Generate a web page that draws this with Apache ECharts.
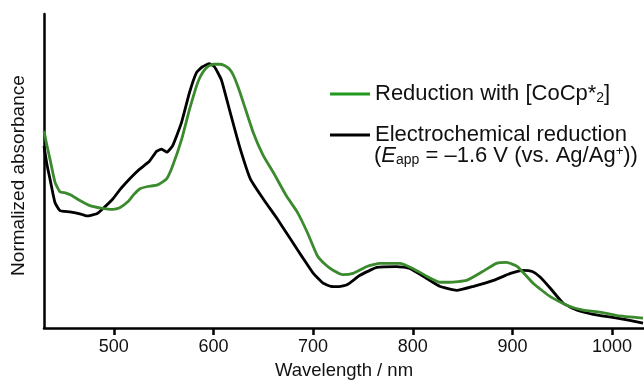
<!DOCTYPE html>
<html>
<head>
<meta charset="utf-8">
<script src="https://cdn.jsdelivr.net/npm/echarts@6/dist/echarts.min.js"></script>
<style>html,body{margin:0;padding:0;background:#fff;}#c{width:644px;height:385px;}</style>
</head>
<body>
<div id="c"></div>
<script>
var xTicks = [500, 600, 700, 800, 900, 1000];

var greenX = [430,433,436,441,446,452,457,466,476,486,499,506,514,520,526,533,544,553,559,568,576,584,589,594,600,606,611,616,620,625,630,640,650,660,673,684,694,704,712,720,730,740,754,767,787,800,814,827,837,854,870,884,894,905,921,938,955,971,988,1005,1031];
var greenY = [62.8,58,53.8,46.5,43.4,43,42.4,40.6,39,38.3,37.8,38.3,40.2,42.5,44.3,45,45.6,47.5,51.6,60,69.6,78,81.3,83.2,84,84,83.6,82.5,80.5,76.5,71.8,62.2,54.9,49.6,42.2,37,30.6,23.2,20.3,18.4,17,17.4,19.6,20.6,20.6,19,16.5,14.6,14.6,15.2,18,20.6,20.9,19.6,14.2,10,7.2,5.7,5.1,4,3.2];

var blackX = [430,433,436,441,446,456,466,473,483,489,499,506,513,520,526,536,543,548,553,559,568,576,583,589,596,601,608,616,626,637,650,664,677,690,700,710,718,726,734,747,764,784,797,814,827,844,861,881,898,911,920,928,938,951,965,981,1005,1031];
var blackY = [58,52,47.5,40,37.4,37,36.4,35.7,36.4,38,41.1,44,46.5,48.8,50.6,53.2,56.3,57,56,58,65.5,75,81.3,83.2,84.2,83.2,79,69.6,58,47.5,41.1,34.8,28.5,22.2,17.5,14.3,13.3,13.2,13.8,16.8,19.3,19.6,19,15.8,13.3,12,13.3,15.2,17.4,18.4,18,16.2,12.7,7.9,5.7,4.4,3.2,1.6];

var nameGreen = 'Reduction with [CoCp*2]';
var nameBlack = 'Electrochemical reduction';

function zip(a, b) { return a.map(function (v, i) { return [v, b[i]]; }); }

var FONT = 'Liberation Sans, Arial, Helvetica, sans-serif';
var LF = 22;
var chart = echarts.init(document.getElementById('c'));
chart.setOption({
  animation: false,
  backgroundColor: '#fff',
  grid: { left: 44, right: 0, top: 14, bottom: 55 },
  xAxis: {
    type: 'value', min: 430, max: 1032,
    name: 'Wavelength / nm', nameLocation: 'middle', nameGap: 31,
    nameTextStyle: { fontFamily: FONT, fontSize: 18.5, color: '#111' },
    axisLine: { lineStyle: { color: '#000', width: 2.5 } },
    axisTick: { show: true, length: 7, lineStyle: { color: '#000', width: 2.5 }, customValues: xTicks },
    axisLabel: { fontFamily: FONT, fontSize: 18, color: '#111', margin: 10, customValues: xTicks,
      formatter: function (v) { return String(v); } },
    splitLine: { show: false }
  },
  yAxis: {
    type: 'value', min: 0, max: 100,
    name: 'Normalized absorbance', nameLocation: 'middle', nameGap: 16,
    nameTextStyle: { fontFamily: FONT, fontSize: 19, color: '#111', padding: [0, 9, 0, 0] },
    axisLine: { show: true, lineStyle: { color: '#000', width: 2.5 } },
    axisTick: { show: false }, axisLabel: { show: false }, splitLine: { show: false }
  },
  legend: [
    { data: [{ name: nameGreen, itemStyle: { color: '#1f9a1f' } }], orient: 'vertical', left: 325, top: 78,
      icon: 'rect', itemWidth: 40, itemHeight: 3, itemGap: 10,
      formatter: function () { return '{a|Reduction with [CoCp*}{s|2}{a|]}'; },
      textStyle: { fontFamily: FONT, fontSize: LF, color: '#111',
        rich: { a: { fontFamily: FONT, fontSize: LF, color: '#111' },
                s: { fontFamily: FONT, fontSize: 14, color: '#111', verticalAlign: 'bottom', padding: [8, 0, 0, 0] } } } },
    { data: [{ name: nameBlack, itemStyle: { color: '#000' } }], orient: 'vertical', left: 325, top: 119,
      icon: 'rect', itemWidth: 40, itemHeight: 3, itemGap: 10,
      textStyle: { fontFamily: FONT, fontSize: LF, color: '#111' } }
  ],
  graphic: [{
    type: 'text', left: 374, top: 145,
    style: {
      text: '{a|(}{i|E}{s|app}{a| = –1.6 V (vs. Ag/Ag}{p|+}{a|))}',
      rich: {
        a: { fontFamily: FONT, fontSize: LF, fill: '#111' },
        i: { fontFamily: FONT, fontSize: LF, fontStyle: 'italic', fill: '#111' },
        s: { fontFamily: FONT, fontSize: 14, fill: '#111', verticalAlign: 'bottom', padding: [8, 0, 0, 0] },
        p: { fontFamily: FONT, fontSize: 13, fill: '#111', verticalAlign: 'top' }
      }
    }
  }],
  series: [
    { name: nameGreen, type: 'line', data: zip(greenX, greenY), showSymbol: false, smooth: 0.15,
      lineStyle: { color: '#3b8a2d', width: 2.8 }, itemStyle: { color: '#3b8a2d' }, z: 3 },
    { name: nameBlack, type: 'line', data: zip(blackX, blackY), showSymbol: false, smooth: 0.15,
      lineStyle: { color: '#000', width: 2.8 }, itemStyle: { color: '#000' }, z: 2 }
  ]
});
</script>
</body>
</html>
